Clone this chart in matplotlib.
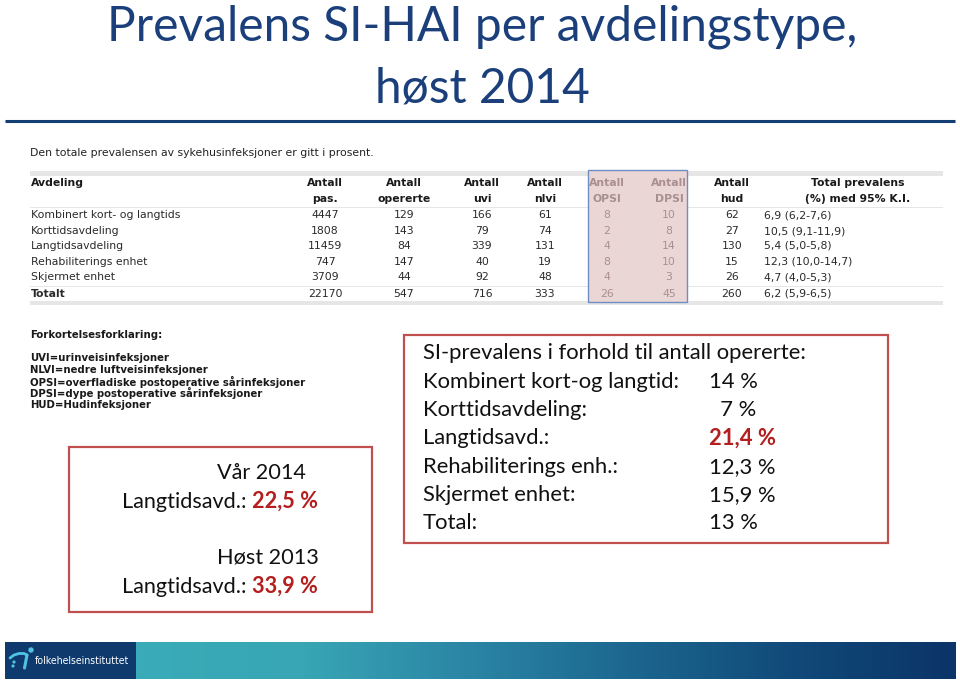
import matplotlib
matplotlib.use("Agg")
import matplotlib.pyplot as plt
import numpy as np
from matplotlib.patches import Rectangle, Circle
from matplotlib.colors import LinearSegmentedColormap

# ---------------- data ----------------
title_lines = ["Prevalens SI-HAI per avdelingstype,", "høst 2014"]
intro = "Den totale prevalensen av sykehusinfeksjoner er gitt i prosent."
departments = ["Kombinert kort- og langtids", "Korttidsavdeling", "Langtidsavdeling",
               "Rehabiliterings enhet", "Skjermet enhet", "Totalt"]
col_headers = [("Antall", "pas."), ("Antall", "opererte"), ("Antall", "uvi"), ("Antall", "nlvi"),
               ("Antall", "OPSI"), ("Antall", "DPSI"), ("Antall", "hud")]
pas = [4447, 1808, 11459, 747, 3709, 22170]
opererte = [129, 143, 84, 147, 44, 547]
uvi = [166, 79, 339, 40, 92, 716]
nlvi = [61, 74, 131, 19, 48, 333]
opsi = [8, 2, 4, 8, 4, 26]
dpsi = [10, 8, 14, 10, 3, 45]
hud = [62, 27, 130, 15, 26, 260]
prev = [6.9, 10.5, 5.4, 12.3, 4.7, 6.2]
ci_low = [6.2, 9.1, 5.0, 10.0, 4.0, 5.9]
ci_high = [7.6, 11.9, 5.8, 14.7, 5.3, 6.5]

abbrev = ["UVI=urinveisinfeksjoner", "NLVI=nedre luftveisinfeksjoner",
          "OPSI=overfladiske postoperative sårinfeksjoner",
          "DPSI=dype postoperative sårinfeksjoner", "HUD=Hudinfeksjoner"]

left_box = [("Vår 2014", "22,5 %"), ("Høst 2013", "33,9 %")]

op_labels = ["Kombinert kort-og langtid:", "Korttidsavdeling:", "Langtidsavd.:",
             "Rehabiliterings enh.:", "Skjermet enhet:", "Total:"]
op_values = ["14 %", "  7 %", "21,4 %", "12,3 %", "15,9 %", "13 %"]

# ---------------- figure ----------------
fig = plt.figure(figsize=(9.6, 6.81), dpi=100)
ax = fig.add_axes([0, 0, 1, 1])
ax.set_xlim(0, 960)
ax.set_ylim(681, 0)
ax.axis("off")

TITLE_C = "#1A3F7A"
RED = "#C0504D"
DARKRED = "#B41E1E"
SLIDE_FONT = "Lato"

# title
ax.text(482, 27, title_lines[0], fontsize=34.5, color=TITLE_C, family=SLIDE_FONT,
        ha="center", va="center")
ax.text(482, 88, title_lines[1], fontsize=34.5, color=TITLE_C, family=SLIDE_FONT,
        ha="center", va="center")
ax.plot([5, 955], [121, 121], color="#143E73", lw=2.2, solid_capstyle="butt")

# ---------------- table ----------------
TF = 7.8
ax.text(30, 153, intro, fontsize=TF, family="DejaVu Sans", color="#222222", va="center")
ax.add_patch(Rectangle((30, 171), 913, 5, color="#E6E6E6", lw=0))
ax.add_patch(Rectangle((30, 206.5), 913, 1.2, color="#E6E6E6", lw=0))
ax.add_patch(Rectangle((30, 285.5), 913, 1.2, color="#E6E6E6", lw=0))
ax.add_patch(Rectangle((30, 301), 913, 4, color="#E6E6E6", lw=0))
# highlighted OPSI/DPSI block
ax.add_patch(Rectangle((588, 170), 99, 132, facecolor="#EBD6D6", edgecolor="#6E8EC2", lw=1.0))

col_x = [325, 404, 482, 545, 607, 669, 732]
row_y = [215, 231, 246, 262, 277, 294]
hdr_y = [183, 199]
columns = [pas, opererte, uvi, nlvi, opsi, dpsi, hud]

ax.text(31, hdr_y[0], "Avdeling", fontsize=TF, weight="bold", family="DejaVu Sans",
        color="#1A1A1A", va="center")
for i, (cx, (h1, h2), vals) in enumerate(zip(col_x, col_headers, columns)):
    faded = i in (4, 5)
    c = "#A98F8F" if faded else "#1A1A1A"
    ax.text(cx, hdr_y[0], h1, fontsize=TF, weight="bold", family="DejaVu Sans", color=c,
            ha="center", va="center")
    ax.text(cx, hdr_y[1], h2, fontsize=TF, weight="bold", family="DejaVu Sans", color=c,
            ha="center", va="center")
    for y, v in zip(row_y, vals):
        ax.text(cx, y, str(v), fontsize=TF, family="DejaVu Sans",
                color=("#A98F8F" if faded else "#2A2A2A"), ha="center", va="center")

ax.text(858, hdr_y[0], "Total prevalens", fontsize=TF, weight="bold", family="DejaVu Sans",
        color="#1A1A1A", ha="center", va="center")
ax.text(858, hdr_y[1], "(%) med 95% K.I.", fontsize=TF, weight="bold", family="DejaVu Sans",
        color="#1A1A1A", ha="center", va="center")


def fmt(v):
    return f"{v:.1f}".replace(".", ",")


for y, d, p, lo, hi in zip(row_y, departments, prev, ci_low, ci_high):
    bold = d == "Totalt"
    ax.text(31, y, d, fontsize=TF, family="DejaVu Sans", weight=("bold" if bold else "normal"),
            color="#2A2A2A", va="center")
    ax.text(764, y, f"{fmt(p)} ({fmt(lo)}-{fmt(hi)})", fontsize=TF, family="DejaVu Sans",
            color="#2A2A2A", va="center")

# ---------------- abbreviations ----------------
AF = 8.1
ax.text(30, 335, "Forkortelsesforklaring:", fontsize=AF, weight="bold", family="DejaVu Sans",
        fontstretch="condensed", color="#1A1A1A", va="center")
for y, t in zip([358, 370, 381.5, 393, 405], abbrev):
    ax.text(30, y, t, fontsize=AF, weight="bold", family="DejaVu Sans",
            fontstretch="condensed", color="#1A1A1A", va="center")

# ---------------- left red box ----------------
ax.add_patch(Rectangle((69, 447), 303, 165, facecolor="none", edgecolor=RED, lw=1.6))
LF = 15.6
for (season, val), ys in zip(left_box, [(473, 502), (558, 587)]):
    ax.text(217, ys[0], season, fontsize=LF, family=SLIDE_FONT, color="#111111", va="center")
    t = ax.text(122, ys[1], "Langtidsavd.: ", fontsize=LF, family=SLIDE_FONT,
                color="#111111", va="center")
    ax.annotate(val, xycoords=t, xy=(1, 0), va="bottom", fontsize=LF, family=SLIDE_FONT,
                weight="bold", color=DARKRED)

# ---------------- right red box ----------------
ax.add_patch(Rectangle((404, 335), 484, 208, facecolor="none", edgecolor=RED, lw=1.6))
RF = 15.8
ax.text(423, 353, "SI-prevalens i forhold til antall opererte:", fontsize=RF,
        family=SLIDE_FONT, color="#111111", va="center")
for y, lab, val in zip([382, 410, 438, 467, 495, 523], op_labels, op_values):
    ax.text(423, y, lab, fontsize=RF, family=SLIDE_FONT, color="#111111", va="center")
    hl = lab.startswith("Langtid")
    ax.text(709, y, val, fontsize=RF, family=SLIDE_FONT, va="center",
            color=(DARKRED if hl else "#111111"), weight=("bold" if hl else "normal"))

# ---------------- footer ----------------
cmap = LinearSegmentedColormap.from_list(
    "fhi", ["#3AABB8", "#38A6B5", "#2B86A5", "#1C6790", "#114A7A", "#0B3468"])
grad = np.linspace(0, 1, 400).reshape(1, -1)
ax.imshow(grad, extent=(136, 956, 679, 642), cmap=cmap, aspect="auto", zorder=1)
ax.add_patch(Rectangle((5, 642), 131, 37, color="#0E3A6E", lw=0, zorder=2))
# logo swoosh
ax.plot([10, 14, 19, 24, 27], [658, 655, 653.5, 653.5, 655], color="#4FC3E6", lw=2.0,
        solid_capstyle="round", zorder=3)
ax.plot([27, 24.5], [655, 668], color="#4FC3E6", lw=2.2, solid_capstyle="round", zorder=3)
ax.add_patch(Circle((31, 650), 2.0, color="#4FC3E6", zorder=3))
ax.add_patch(Circle((14, 662), 0.9, color="#4FC3E6", zorder=3))
ax.add_patch(Circle((13, 666), 0.9, color="#4FC3E6", zorder=3))
ax.text(35, 661, "folkehelseinstituttet", fontsize=7.6, family="DejaVu Sans",
        fontstretch="condensed", color="white", va="center", zorder=3)
ax.set_xlim(0, 960)
ax.set_ylim(681, 0)

fig.savefig("out.png", dpi=100, facecolor="white")
